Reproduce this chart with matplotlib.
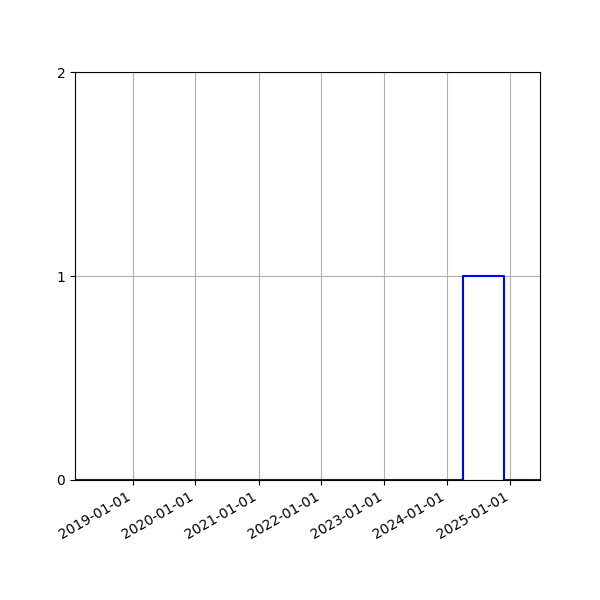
import numpy as np
import matplotlib
matplotlib.use('Agg')
import matplotlib.pyplot as plt
import matplotlib.dates as mdates

dates = np.array(['2018-02-01', '2024-04-01', '2024-11-25', '2025-06-22'], dtype='datetime64[D]')
values = [0, 1, 0, 0]

fig, ax = plt.subplots(figsize=(6, 6), dpi=100)
ax.plot(dates, values, color='blue', drawstyle='steps-post')
ax.set_xlim(dates[0], dates[-1])
ax.set_ylim(0, 2)
ax.set_yticks([0, 1, 2])
ax.xaxis.set_major_locator(mdates.YearLocator())
ax.xaxis.set_major_formatter(mdates.DateFormatter('%Y-%m-%d'))
ax.grid(True)
fig.autofmt_xdate()
fig.savefig('out.png')
